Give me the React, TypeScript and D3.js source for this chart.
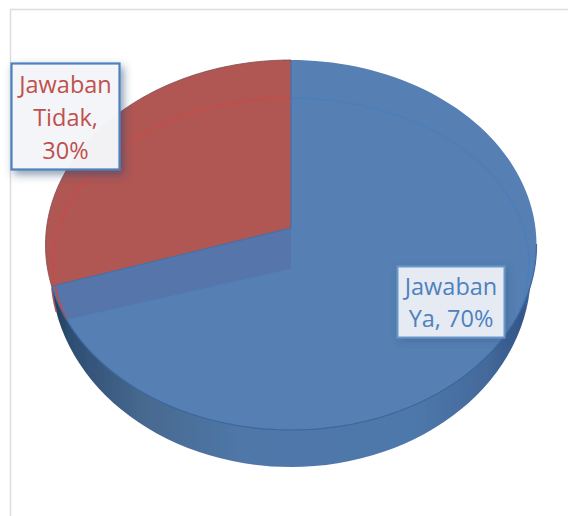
import React from "react";
import * as d3 from "d3";

const categories = ["Jawaban Ya", "Jawaban Tidak"];
const values = [70, 30];
const labelLines = [["Jawaban", "Ya, 70%"], ["Jawaban", "Tidak,", "30%"]];
const sliceColors = ["#567fb3", "#b05753"];
const rimColors = ["#4b7fbc", "#c44d4a"];
const textColors = ["#4f81bd", "#c0504d"];

const W = 568, H = 516;
const pie = d3.pie<number>().sort(null).startAngle(0).endAngle(2 * Math.PI);
const arcs = pie(values);

type Disc = { cx: number; cy: number; rx: number; ry: number; a: number };
const topDisc: Disc = { cx: 291, cy: 245, rx: 245.5, ry: 185, a: -0.092 };
const rimDisc: Disc = { cx: 291, cy: 264, rx: 238, ry: 166, a: 0.03 };
const baseDisc: Disc = { cx: 291, cy: 271, rx: 240, ry: 196, a: 0 };

// perspective projection of a unit circle onto an ellipse
const project = (d: Disc, ang: number, r = 1): [number, number] => {
  const u = r * Math.sin(ang), v = -r * Math.cos(ang);
  const k = 1 + d.a * v;
  return [d.cx + (d.rx * Math.sqrt(1 - d.a * d.a) * u) / k, d.cy + (d.ry * (v + d.a)) / k];
};
const sweep = (d: Disc, a0: number, a1: number) =>
  d3.range(0, 121).map((i) => project(d, a0 + ((a1 - a0) * i) / 120));
const line = d3.line();
const slicePath = (d: Disc, a0: number, a1: number) =>
  line([project(d, 0, 0), ...sweep(d, a0, a1)])! + "Z";
const deg = (x: number) => (x * Math.PI) / 180;

const boxes = [
  { x: 397.5, y: 266.5, w: 107, h: 71, base: [295, 327], stroke: "#6b97cb", fill: "#ebeff6", sw: 2, filter: "url(#softShadow)" },
  { x: 11.5, y: 63.5, w: 108, h: 106, base: [93, 126, 159], stroke: "#4f81bd", fill: "#f6f7fa", sw: 2.2, filter: "url(#boxShadow)" },
];

export default function App() {
  const boundary = arcs[0].endAngle;
  const darkWedge = line([
    project(topDisc, 0, 0),
    project(topDisc, boundary),
    project(rimDisc, boundary),
    project(rimDisc, 0, 0),
  ])! + "Z";
  return (
    <svg width={W} height={H} viewBox={`0 0 ${W} ${H}`} style={{ position: "absolute", left: 0, top: 0, background: "#fff" }}>
      <defs>
        <linearGradient id="side" gradientUnits="userSpaceOnUse" x1={45} x2={537} y1={0} y2={0}>
          <stop offset="0" stopColor="#1f3550" />
          <stop offset="0.05" stopColor="#2e4d72" />
          <stop offset="0.2" stopColor="#47698f" />
          <stop offset="0.4" stopColor="#5077a8" />
          <stop offset="0.75" stopColor="#4e78ab" />
          <stop offset="0.9" stopColor="#44699a" />
          <stop offset="0.97" stopColor="#34568a" />
          <stop offset="1" stopColor="#4a72a3" />
        </linearGradient>
        <filter id="soft" x="-5%" y="-5%" width="110%" height="110%">
          <feGaussianBlur stdDeviation="0.5" />
        </filter>
        <filter id="boxShadow" x="-20%" y="-20%" width="150%" height="150%">
          <feDropShadow dx="3" dy="4" stdDeviation="4" floodColor="#2c4a70" floodOpacity="0.55" />
        </filter>
        <filter id="softShadow" x="-20%" y="-20%" width="150%" height="150%">
          <feDropShadow dx="2" dy="3" stdDeviation="4" floodColor="#2c4a70" floodOpacity="0.3" />
        </filter>
      </defs>
      <path d={`M10.5 516V9.5H568`} fill="none" stroke="#dcdcdc" strokeWidth={1.4} />
      <g filter="url(#soft)">
        <ellipse cx={baseDisc.cx} cy={baseDisc.cy} rx={baseDisc.rx} ry={baseDisc.ry} fill="url(#side)" />
        <path d={line(sweep(baseDisc, deg(258), deg(265)))!} fill="none" stroke="#a85a5a" strokeWidth={1.6} />
        {arcs.map((a, i) => (
          <path key={categories[i]} d={slicePath(topDisc, a.startAngle, a.endAngle)} fill={sliceColors[i]} />
        ))}
        <path d={darkWedge} fill="#5475ab" />
        <path d={line(sweep(rimDisc, 0, deg(105)))!} fill="none" stroke={rimColors[0]} strokeWidth={1.5} />
        <path d={line(sweep(rimDisc, boundary, 2 * Math.PI))!} fill="none" stroke={rimColors[1]} strokeWidth={1.8} />
        <path d={line([project(rimDisc, boundary), project(rimDisc, 0, 0)])!} fill="none" stroke="#4f80b9" strokeWidth={1} />
        <path d={line([project(topDisc, boundary), project(topDisc, 0, 0), project(topDisc, 0)])!} fill="none" stroke="#3f72ad" strokeWidth={1} />
        <path d={line(sweep(topDisc, deg(95), boundary))!} fill="none" stroke="#3a689f" strokeWidth={1.2} />
        <path d={line(sweep(topDisc, boundary, 2 * Math.PI))!} fill="none" stroke="#7f4a4c" strokeWidth={0.8} />
      </g>
      {boxes.map((b, i) => (
        <g key={i}>
          <rect x={b.x} y={b.y} width={b.w} height={b.h} fill={b.fill} fillOpacity={0.96} stroke={b.stroke} strokeWidth={b.sw} filter={b.filter} />
          {labelLines[i].map((t, j) => (
            <text key={j} x={b.x + b.w / 2} y={b.base[j]} textAnchor="middle" fontFamily="'Open Sans', 'Noto Sans', sans-serif" fontSize={23.5} fill={textColors[i]}>{t}</text>
          ))}
        </g>
      ))}
    </svg>
  );
}
